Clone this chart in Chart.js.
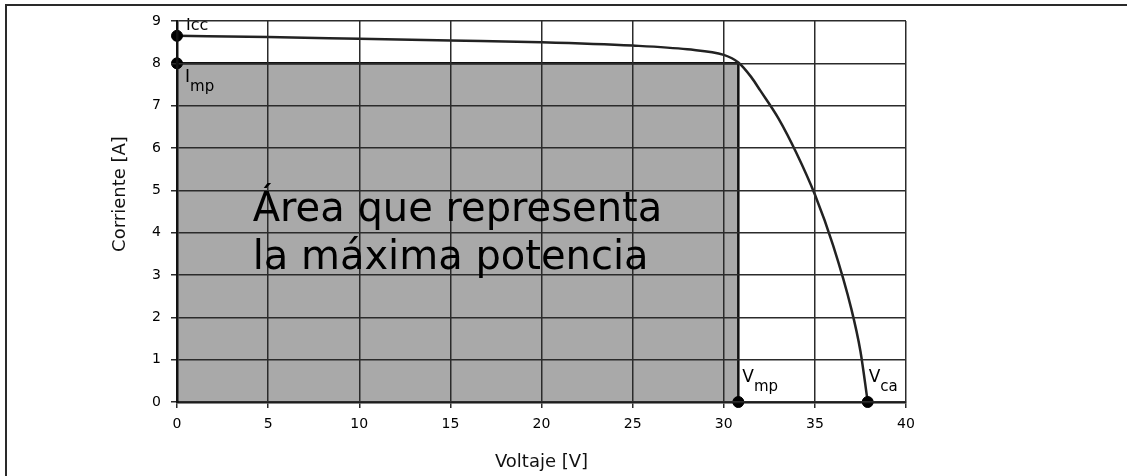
<!DOCTYPE html>
<html><head><meta charset="utf-8">
<script src="https://cdn.jsdelivr.net/npm/chart.js@4/dist/chart.umd.min.js"></script>
<style>
html,body{margin:0;padding:0;background:#fff;}
#wrap{position:relative;width:1127px;height:476px;}
#frame{position:absolute;left:5px;top:4px;width:1130px;height:480px;border-top:2px solid #2a2a2a;border-left:2px solid #2a2a2a;pointer-events:none;}
</style></head>
<body><div id="wrap"><canvas id="c" width="1127" height="476"></canvas><div id="frame"></div></div>
<script>
// I-V curve data
const curveV = [0, 5, 10, 15, 20, 25, 28, 30, 30.8, 31.5, 32, 33, 34, 35, 36, 37, 37.5, 37.9];
const curveI = [8.65, 8.62, 8.58, 8.54, 8.5, 8.42, 8.33, 8.2, 8.02, 7.68, 7.36, 6.7, 5.87, 4.9, 3.7, 2.2, 1.2, 0];
// maximum power rectangle
const rectV = [0, 30.8, 30.8];
const rectI = [8, 8, 0];
// marked points
const pointNames = ["Icc", "Imp", "Vmp", "Vca"];
const pointV = [0, 0, 30.8, 37.9];
const pointI = [8.65, 8, 0, 0];
const xTicks = [0, 5, 10, 15, 20, 25, 30, 35, 40];
const yTicks = [0, 1, 2, 3, 4, 5, 6, 7, 8, 9];
const areaText = ["Área que representa", "la máxima potencia"];
const xTitle = "Voltaje [V]";
const yTitle = "Corriente [A]";

const FONT = "'DejaVu Sans', sans-serif";

const labelPlugin = {
  id: 'labels',
  afterDatasetsDraw(chart) {
    const ctx = chart.ctx, xs = chart.scales.x, ys = chart.scales.y;
    ctx.save();
    ctx.fillStyle = '#000';
    ctx.textAlign = 'left'; ctx.textBaseline = 'alphabetic';
    // point labels
    function sub(main, s, px, py) {
      ctx.font = '17px ' + FONT;
      ctx.fillText(main, px, py);
      const w = ctx.measureText(main).width;
      ctx.font = '15px ' + FONT;
      ctx.fillText(s, px + w, py + 9);
    }
    ctx.font = '16px ' + FONT;
    ctx.fillText('Icc', xs.getPixelForValue(pointV[0]) + 9, ys.getPixelForValue(pointI[0]) - 6);
    sub('I', 'mp', xs.getPixelForValue(pointV[1]) + 8, ys.getPixelForValue(pointI[1]) + 19);
    sub('V', 'mp', xs.getPixelForValue(pointV[2]) + 4, ys.getPixelForValue(pointI[2]) - 20);
    sub('V', 'ca', xs.getPixelForValue(pointV[3]) + 1, ys.getPixelForValue(pointI[3]) - 20);
    ctx.restore();
  },
  afterDraw(chart) {
    const ctx = chart.ctx, a = chart.chartArea, xs = chart.scales.x, ys = chart.scales.y;
    ctx.save();
    ctx.fillStyle = '#000';
    // area text (on top of grid)
    ctx.font = '40px ' + FONT;
    ctx.textAlign = 'left'; ctx.textBaseline = 'alphabetic';
    const tx = xs.getPixelForValue(4.15);
    ctx.fillText(areaText[0], tx, ys.getPixelForValue(4.28));
    ctx.fillText(areaText[1], tx, ys.getPixelForValue(3.15));
    ctx.fillStyle = '#111';
    ctx.font = '18px ' + FONT;
    ctx.textAlign = 'center'; ctx.textBaseline = 'middle';
    ctx.fillText(xTitle, (a.left + a.right) / 2, 462);
    ctx.translate(120, 194);
    ctx.rotate(-Math.PI / 2);
    ctx.fillText(yTitle, 0, 0);
    ctx.restore();
  }
};

new Chart(document.getElementById('c'), {
  type: 'scatter',
  data: {
    datasets: [
      {
        data: rectV.map((v, i) => ({x: v, y: rectI[i]})),
        showLine: true, fill: 'origin',
        backgroundColor: '#a9a9a9', borderColor: '#111', borderWidth: 2.5,
        pointRadius: 0, order: 3
      },
      {
        data: curveV.map((v, i) => ({x: v, y: curveI[i]})),
        showLine: true, fill: false, cubicInterpolationMode: 'monotone',
        borderColor: '#222', borderWidth: 2.5, pointRadius: 0, order: 2
      },
      {
        data: pointV.map((v, i) => ({x: v, y: pointI[i]})),
        showLine: false, pointRadius: 5.5, pointBackgroundColor: '#000',
        pointBorderColor: '#000', clip: false, order: 1
      }
    ]
  },
  options: {
    responsive: false, animation: false,
    layout: {padding: {left: 0, right: 221, top: 21, bottom: 0}},
    plugins: {legend: {display: false}, tooltip: {enabled: false}},
    scales: {
      x: {
        type: 'linear', min: 0, max: 40,
        afterBuildTicks: s => { s.ticks = xTicks.map(v => ({value: v})); },
        afterFit: s => { s.height = 74; },
        grid: {color: '#2b2b2b', lineWidth: 1.5, tickLength: 6, drawTicks: true, z: 1},
        border: {color: '#111', width: 2.5, z: 1},
        ticks: {color: '#000', font: {family: FONT, size: 14}, padding: 8, maxRotation: 0}
      },
      y: {
        type: 'linear', min: 0, max: 9,
        afterBuildTicks: s => { s.ticks = yTicks.map(v => ({value: v})); },
        afterFit: s => { s.width = 177; },
        grid: {color: '#2b2b2b', lineWidth: 1.5, tickLength: 6, z: 1},
        border: {color: '#111', width: 2.5, z: 1},
        ticks: {color: '#000', font: {family: FONT, size: 14}, padding: 10}
      }
    }
  },
  plugins: [labelPlugin]
});
</script></body></html>
